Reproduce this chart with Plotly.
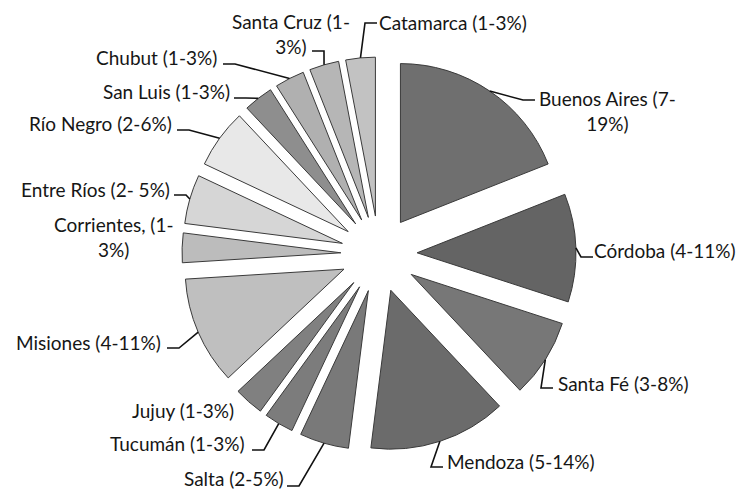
import math
import plotly.graph_objects as go

# ---- data ----
provinces = ["Buenos Aires", "Córdoba", "Santa Fé", "Mendoza", "Salta", "Tucumán", "Jujuy",
             "Misiones", "Corrientes", "Entre Ríos", "Río Negro", "San Luis", "Chubut",
             "Santa Cruz", "Catamarca"]
low_pct = [7, 4, 3, 5, 2, 1, 1, 4, 1, 2, 2, 1, 1, 1, 1]
high_pct = [19, 11, 8, 14, 5, 3, 3, 11, 3, 5, 6, 3, 3, 3, 3]
label_texts = ["Buenos Aires (7-<br>19%)", "Córdoba (4-11%)", "Santa Fé (3-8%)", "Mendoza (5-14%)",
               "Salta (2-5%)", "Tucumán (1-3%)", "Jujuy (1-3%)", "Misiones (4-11%)",
               "Corrientes, (1-<br>3%)", "Entre Ríos (2- 5%)", "Río Negro (2-6%)", "San Luis (1-3%)",
               "Chubut (1-3%)", "Santa Cruz (1-<br>3%)", "Catamarca (1-3%)"]

# ---- style / layout ----
colors = ["#6f6f6f", "#646464", "#777777", "#6b6b6b", "#797979", "#7c7c7c", "#808080",
          "#bfbfbf", "#bcbcbc", "#d6d6d6", "#e8e8e8", "#8e8e8e", "#b0b0b0", "#b6b6b6", "#c2c2c2"]
PAGE_OFF = 8               # default body margin of the html page
W, H = 746 - PAGE_OFF, 492 - PAGE_OFF
CX, CY = 379, 254          # pie centre in window pixels
OUTER = 197                # radius including pull, pixels
PULL = 0.24
FONT = dict(family="Lato, Carlito, Calibri, sans-serif", size=19, color="#161616")

# label placement (window px): text centre, attach point of leader, side of elbow (+1 right / -1 left)
label_pos = {
    "Buenos Aires": ((607, 111), (535, 100), -1),
    "Córdoba": ((665, 250), (593, 257), -1),
    "Santa Fé": ((623, 383), (553, 388), -1),
    "Mendoza": ((521, 461), (443, 467), -1),
    "Salta": ((234, 478), (287, 486), 1),
    "Tucumán": ((177, 443), (252, 450), 1),
    "Jujuy": ((183, 410), None, 0),
    "Misiones": ((88, 342), (167, 348), 1),
    "Corrientes": ((114, 237), None, 0),
    "Entre Ríos": ((95, 189), (174, 195), 1),
    "Río Negro": ((100, 123), (177, 130), 1),
    "San Luis": ((166, 92), (234, 98), 1),
    "Chubut": ((156, 58), (223, 64), 1),
    "Santa Cruz": ((291, 34), (312, 51), 1),
    "Catamarca": ((453, 22), (377, 23), -1),
}


def px2paper(x, y):
    return (x - PAGE_OFF) / W, 1 - (y - PAGE_OFF) / H


half = OUTER
x0, y1 = px2paper(CX - half, CY - half)
x1, y0 = px2paper(CX + half, CY + half)

fig = go.Figure(go.Pie(
    labels=provinces,
    values=high_pct,
    customdata=low_pct,
    sort=False,
    direction="clockwise",
    rotation=0,
    pull=[PULL] * len(provinces),
    marker=dict(colors=colors, line=dict(color="#3a3a3a", width=1)),
    textinfo="none",
    hovertemplate="%{label}: %{customdata}-%{value}%<extra></extra>",
    domain=dict(x=[x0, x1], y=[y0, y1]),
    showlegend=False,
))

total = sum(high_pct)
cum = 0
annotations = []
shapes = []
for name, val, txt in zip(provinces, high_pct, label_texts):
    mid = (cum + val / 2) / total * 2 * math.pi
    cum += val
    ax_ = CX + OUTER * math.sin(mid)
    ay_ = CY - OUTER * math.cos(mid)
    (tx, ty), attach, side = label_pos[name]
    px, py = px2paper(tx, ty)
    annotations.append(dict(x=px, y=py, xref="paper", yref="paper", text=txt, showarrow=False,
                            xanchor="center", yanchor="middle", align="center", font=FONT))
    if attach is not None:
        ex = attach[0] + side * 12
        pts = [(ax_, ay_), (ex, attach[1]), attach]
        path = "M " + " L ".join("{:.5f} {:.5f}".format(*px2paper(x, y)) for x, y in pts)
        shapes.append(dict(type="path", xref="paper", yref="paper", path=path,
                           line=dict(color="#111111", width=1.6)))

fig.update_layout(
    width=W, height=H,
    margin=dict(l=0, r=0, t=0, b=0),
    paper_bgcolor="white", plot_bgcolor="white",
    annotations=annotations, shapes=shapes,
)
fig.write_html("out.html")
